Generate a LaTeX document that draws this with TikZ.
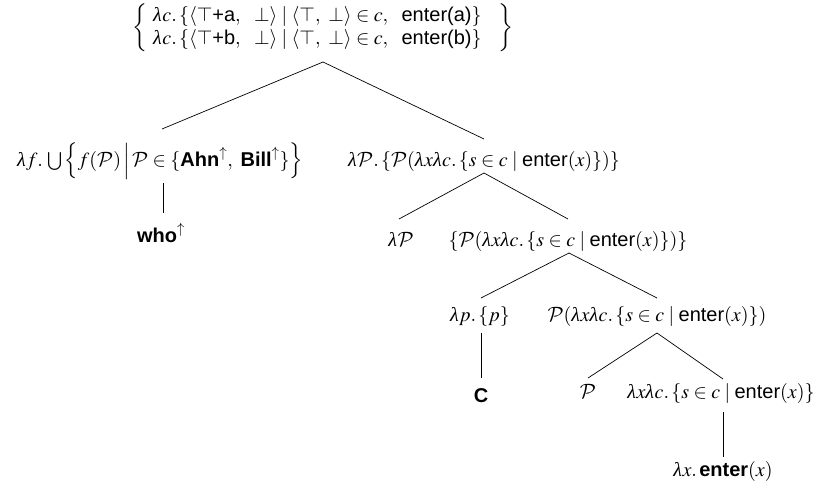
\documentclass[tikz,border=0pt]{standalone}
\usepackage{amsmath}
\usepackage{mathptmx}
\usepackage[no-math]{fontspec}
\setmainfont{Liberation Sans}
\newfontfamily\lamfont{Liberation Serif}
\DeclareMathAlphabet{\mathcal}{OMS}{cmsy}{m}{n}
\newcommand{\tx}[1]{\text{#1}}
\newcommand{\bx}[1]{\text{\bfseries #1}}
\newcommand{\calP}{\mathcal{P}}
\newcommand{\lam}{\text{\lamfont\itshape λ\kern0.5pt}}
\newcommand{\dt}{.\,}
\begin{document}
\begin{tikzpicture}[x=1pt,y=-1pt,
  lab/.style={anchor=base,inner sep=0pt,font=\fontsize{20}{24}\selectfont},
  edge/.style={draw=black,line width=0.7pt}]
\useasboundingbox (0,0) rectangle (831,490);
% nodes
\node[inner sep=0pt,font=\fontsize{20}{23}\selectfont] (root) at (323,28)
  {$\left\{\ \begin{array}{@{}l@{}}
   \lam c\dt\{\langle\top\tx{+a},\ \ \bot\rangle \mid \langle\top,\ \bot\rangle\in c,\ \ \tx{enter(a)}\}\\
   \lam c\dt\{\langle\top\tx{+b},\ \ \bot\rangle \mid \langle\top,\ \bot\rangle\in c,\ \ \tx{enter(b)}\}
   \end{array}\ \ \ \right\}$};
\node[lab] (L) at (160,166)
  {$\lam f\dt\bigcup\Big\{f(\calP)\,\Big|\,\calP\in\{\bx{Ahn}^{\uparrow},\ \bx{Bill}^{\uparrow}\}\Big\}$};
\node[lab] (who) at (161,242) {$\bx{who}^{\uparrow}$};
\node[lab] (R) at (484,166)
  {$\lam\calP\dt\{\calP(\lam x\lam c\dt\{s\in c\mid\tx{enter}(x)\})\}$};
\node[lab] (RL) at (401,246) {$\lam\calP$};
\node[lab] (RR) at (568,246)
  {$\{\calP(\lam x\lam c\dt\{s\in c\mid\tx{enter}(x)\})\}$};
\node[lab] (RRL) at (480,321) {$\lam p\dt\{p\}$};
\node[lab] (C) at (481,402) {\bfseries C};
\node[lab] (RRR) at (657,321)
  {$\calP(\lam x\lam c\dt\{s\in c\mid\tx{enter}(x)\})$};
\node[lab] (P5) at (588,398) {$\calP$};
\node[lab] (F5) at (721,398) {$\lam x\lam c\dt\{s\in c\mid\tx{enter}(x)\}$};
\node[lab] (E) at (723,476) {$\lam x\dt\bx{enter}(x)$};
% connector points
\coordinate (a0) at (323,62);
\coordinate (a1) at (162,129);
\coordinate (a2) at (484,139);
\coordinate (b0) at (163,183);
\coordinate (b1) at (163,213);
\coordinate (c0) at (484,173);
\coordinate (c1) at (399,219);
\coordinate (c2) at (568,219);
\coordinate (d0) at (569,253);
\coordinate (d1) at (481,298);
\coordinate (d2) at (657,298);
\coordinate (e0) at (481,333);
\coordinate (e1) at (481,378);
\coordinate (f0) at (657,333);
\coordinate (f1) at (588,378);
\coordinate (f2) at (723,379);
\coordinate (g0) at (723,412);
\coordinate (g1) at (723,457);
\draw[edge] (a1) -- (a0) -- (a2);
\draw[edge] (b0) -- (b1);
\draw[edge] (c1) -- (c0) -- (c2);
\draw[edge] (d1) -- (d0) -- (d2);
\draw[edge] (e0) -- (e1);
\draw[edge] (f1) -- (f0) -- (f2);
\draw[edge] (g0) -- (g1);
\end{tikzpicture}
\end{document}
